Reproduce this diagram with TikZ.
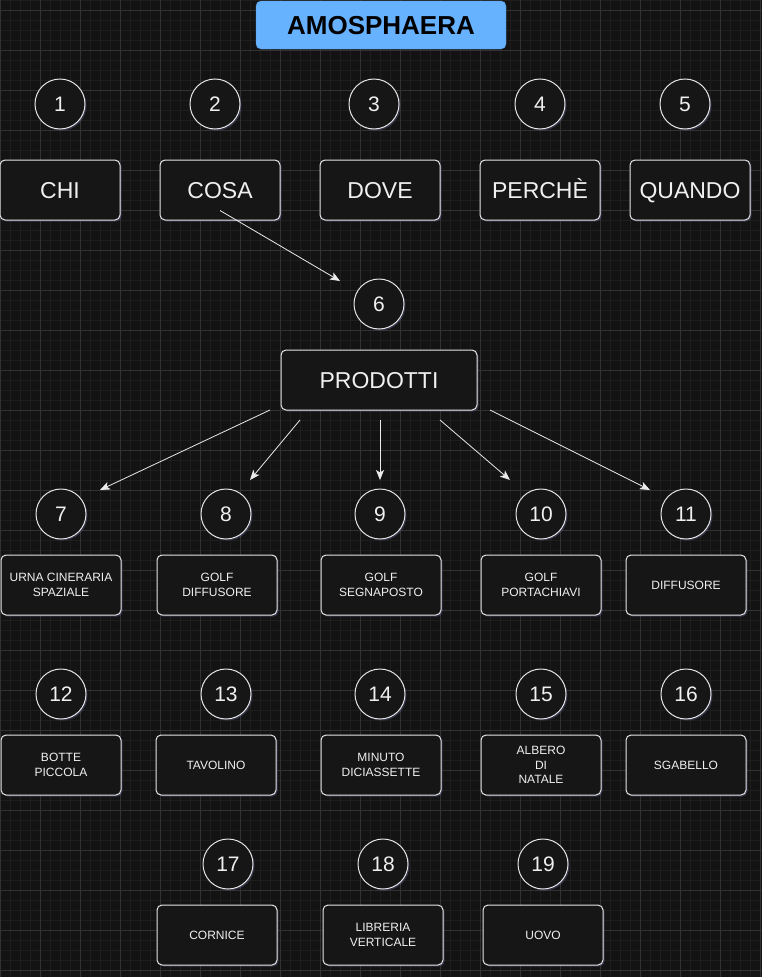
\documentclass[tikz,border=0pt]{standalone}
\usepackage{fontspec}
\setmainfont{Liberation Sans}
\usepackage{tikz}
\usetikzlibrary{shapes,arrows.meta,positioning,shadows}
\definecolor{canvas}{RGB}{19, 19, 19}
\definecolor{minorgrid}{RGB}{30, 30, 30}
\definecolor{majorgrid}{RGB}{50, 50, 50}
\definecolor{boxfill}{RGB}{22, 22, 22}
\definecolor{glow}{RGB}{120, 125, 190}
\definecolor{skyblue}{RGB}{102, 178, 255}
\tikzstyle{title} = [rectangle, rounded corners=5pt, draw=skyblue!85!black, fill=skyblue, text=black, text centered, font=\bfseries\fontsize{26}{30}\selectfont, text height=18.6pt, text depth=0pt, minimum width=250pt, minimum height=48pt]
\tikzstyle{num} = [circle, draw=white!90!black, line width=1pt, fill=boxfill, text=white!94!black, text centered, font=\fontsize{21}{25}\selectfont, text height=15pt, text depth=0pt, minimum size=50pt, inner sep=0pt, drop shadow={shadow xshift=1.5pt, shadow yshift=-1.5pt, fill=glow, opacity=0.3}]
\tikzstyle{topic} = [rectangle, rounded corners=5pt, draw=white!90!black, line width=1pt, fill=boxfill, text=white!94!black, text centered, font=\fontsize{23}{27}\selectfont, text height=16.5pt, text depth=0pt, minimum width=120pt, minimum height=60pt, inner sep=0pt, drop shadow={shadow xshift=1.5pt, shadow yshift=-1.5pt, fill=glow, opacity=0.3}]
\tikzstyle{item} = [topic, align=center, font=\fontsize{12}{14.5}\selectfont, text height=, text depth=]
\tikzstyle{tedge}  = [draw, white!92!black, line width=0.8pt, >={Stealth[length=10pt, width=8pt, inset=2.5pt]}, ->]

\begin{document}
\begin{tikzpicture}[x=1pt, y=-1pt]
\useasboundingbox (0,0) rectangle (762,977);

% background =============================
\fill[canvas] (0,0) rectangle (762,977);
\draw[minorgrid, line width=0.6pt, step=10pt] (0,0) grid (762,977);
\draw[majorgrid, line width=0.8pt, step=40pt, shift={(0,10)}] (0,-10) grid (762,967);

% title
\node[title] (amosphaera) at (381,25) {AMOSPHAERA};

% questions =============================
\node[topic] (chi) at (60,190) {CHI};
\node[topic] (cosa) at (220,190) {COSA};
\node[topic] (dove) at (380,190) {DOVE};
\node[topic] (perche) at (540,190) {PERCHÈ};
\node[topic] (quando) at (690,190) {QUANDO};
\node[num, above=30pt of chi] (n1) {1};
\node[num, above=30pt of cosa, xshift=-5pt] (n2) {2};
\node[num, above=30pt of dove, xshift=-6pt] (n3) {3};
\node[num, above=30pt of perche] (n4) {4};
\node[num, above=30pt of quando, xshift=-5pt] (n5) {5};

% products =============================
\node[topic, minimum width=196pt] (prodotti) at (379,380) {PRODOTTI};
\node[num, above=20pt of prodotti] (n6) {6};

\node[item] (urna) at (61,585) {URNA CINERARIA\\SPAZIALE};
\node[item] (golfdiff) at (217,585) {GOLF\\DIFFUSORE};
\node[item] (golfsegna) at (381,585) {GOLF\\SEGNAPOSTO};
\node[item] (golfporta) at (541,585) {GOLF\\PORTACHIAVI};
\node[item] (diffusore) at (686,585) {DIFFUSORE};
\node[num, above=15pt of urna] (n7) {7};
\node[num, above=15pt of golfdiff, xshift=9pt] (n8) {8};
\node[num, above=15pt of golfsegna, xshift=-1pt] (n9) {9};
\node[num, above=15pt of golfporta] (n10) {10};
\node[num, above=15pt of diffusore] (n11) {11};

\node[item] (botte) at (61,765) {BOTTE\\PICCOLA};
\node[item] (tavolino) at (216,765) {TAVOLINO};
\node[item] (minuto) at (381,765) {MINUTO\\DICIASSETTE};
\node[item] (albero) at (541,765) {ALBERO\\DI\\NATALE};
\node[item] (sgabello) at (686,765) {SGABELLO};
\node[num, above=15pt of botte] (n12) {12};
\node[num, above=15pt of tavolino, xshift=10pt] (n13) {13};
\node[num, above=15pt of minuto, xshift=-1pt] (n14) {14};
\node[num, above=15pt of albero] (n15) {15};
\node[num, above=15pt of sgabello] (n16) {16};

\node[item] (cornice) at (217,935) {CORNICE};
\node[item] (libreria) at (383,935) {LIBRERIA\\VERTICALE};
\node[item] (uovo) at (543,935) {UOVO};
\node[num, above=15pt of cornice, xshift=11pt] (n17) {17};
\node[num, above=15pt of libreria] (n18) {18};
\node[num, above=15pt of uovo] (n19) {19};

% arrow ends
\coordinate (cosa-out) at ([yshift=10pt]cosa.south);
\coordinate (to6) at (340,281);
\coordinate (out7) at (270,410);
\coordinate (out8) at (300,420);
\coordinate (out9) at (380,420);
\coordinate (out10) at (440,420);
\coordinate (out11) at (490,410);
\coordinate (to7) at (100,490);
\coordinate (to8) at (250,480);
\coordinate (to9) at (380,480);
\coordinate (to10) at (510,480);
\coordinate (to11) at (650,490);

% edges
\path[tedge] (cosa-out) -- (to6);
\path[tedge] (out7) -- (to7);
\path[tedge] (out8) -- (to8);
\path[tedge] (out9) -- (to9);
\path[tedge] (out10) -- (to10);
\path[tedge] (out11) -- (to11);

\end{tikzpicture}
\end{document}
